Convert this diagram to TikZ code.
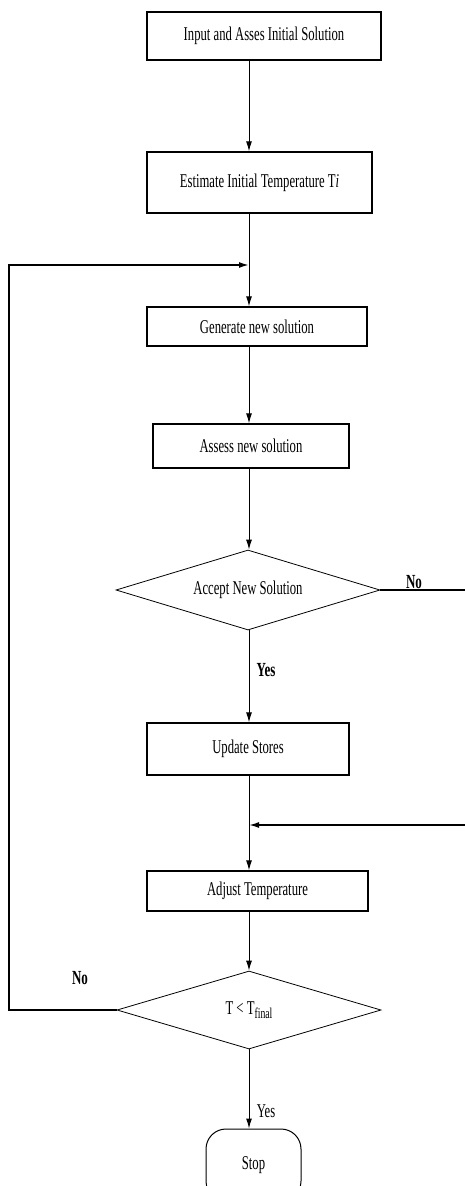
\documentclass[tikz,border=0pt]{standalone}
\usepackage{fontspec}
\newfontfamily\flowfont[FakeStretch=0.65]{Liberation Serif}
\usetikzlibrary{arrows.meta,shapes.geometric,positioning}

\begin{document}
\begin{tikzpicture}[x=1pt,y=-1pt,
  font=\flowfont\fontsize{19.5}{21}\selectfont,
  box/.style={draw,line width=1.4pt,inner sep=0pt},
  choice/.style={draw,diamond,line width=0.8pt,aspect=3.3,inner sep=0pt},
  arr/.style={-{Latex[length=10pt,width=6pt]},line width=1pt},
  back/.style={line width=1.6pt},
  lbl/.style={font=\flowfont\bfseries\fontsize{20}{21}\selectfont}]
\useasboundingbox (0,0) rectangle (465,1186);
%\draw[help lines] (0,0) grid[step=50] (465,1186);
\coordinate (spine) at (249,0);
\coordinate (join) at (249,265);
\coordinate (lft) at (9,265);
\coordinate (rout) at (465,590);
\coordinate (rin) at (465,825);
% process boxes
\foreach \n/\x/\y/\w/\h/\t in {in/264/36/234/48/{Input and Asses Initial Solution},
  est/259.5/182.5/225/61/{Estimate Initial Temperature T\textit{i}},
  gen/257/326.5/220/39/{Generate new solution},
  ass/251/446/196/44/{Assess new solution},
  upd/248/749/202/52/{Update Stores},
  adj/257.5/891/221/40/{Adjust Temperature}}
\node[box,minimum width=\w pt,minimum height=\h pt] (\n) at (\x,\y) {\t};
% decisions
\node[choice,minimum width=264pt,minimum height=80pt] (acc) at (248,590) {Accept New Solution};
\node[choice,minimum width=264pt,minimum height=78pt] (tst) at (249,1010)
  {T < T\raisebox{-0.45ex}{\fontsize{15}{15}\selectfont final}};
\node[box,line width=1pt,rounded corners=20pt,minimum width=95pt,minimum height=72pt] (stop) at (253.5,1165) {Stop};
% flow
\foreach \a/\b in {in/est,est/gen,gen/ass,ass/acc,acc/upd,upd/adj,adj/tst,tst/stop}
\draw[arr] (\a.south -| spine) -- (\b.north -| spine);
\draw[back] (acc.east) -- (rout);
\draw[arr,back] (rin) -- (rin -| spine);
\draw[arr,back] (tst.west) -| (lft) -- (join);
% labels
\node[lbl] (yes1) at (266,670) {Yes};
\node[lbl] (no1) at (414,582) {No};
\node[lbl] (no2) at (80,978) {No};
\node (yes2) at (266,1111) {Yes};
\end{tikzpicture}
\end{document}
